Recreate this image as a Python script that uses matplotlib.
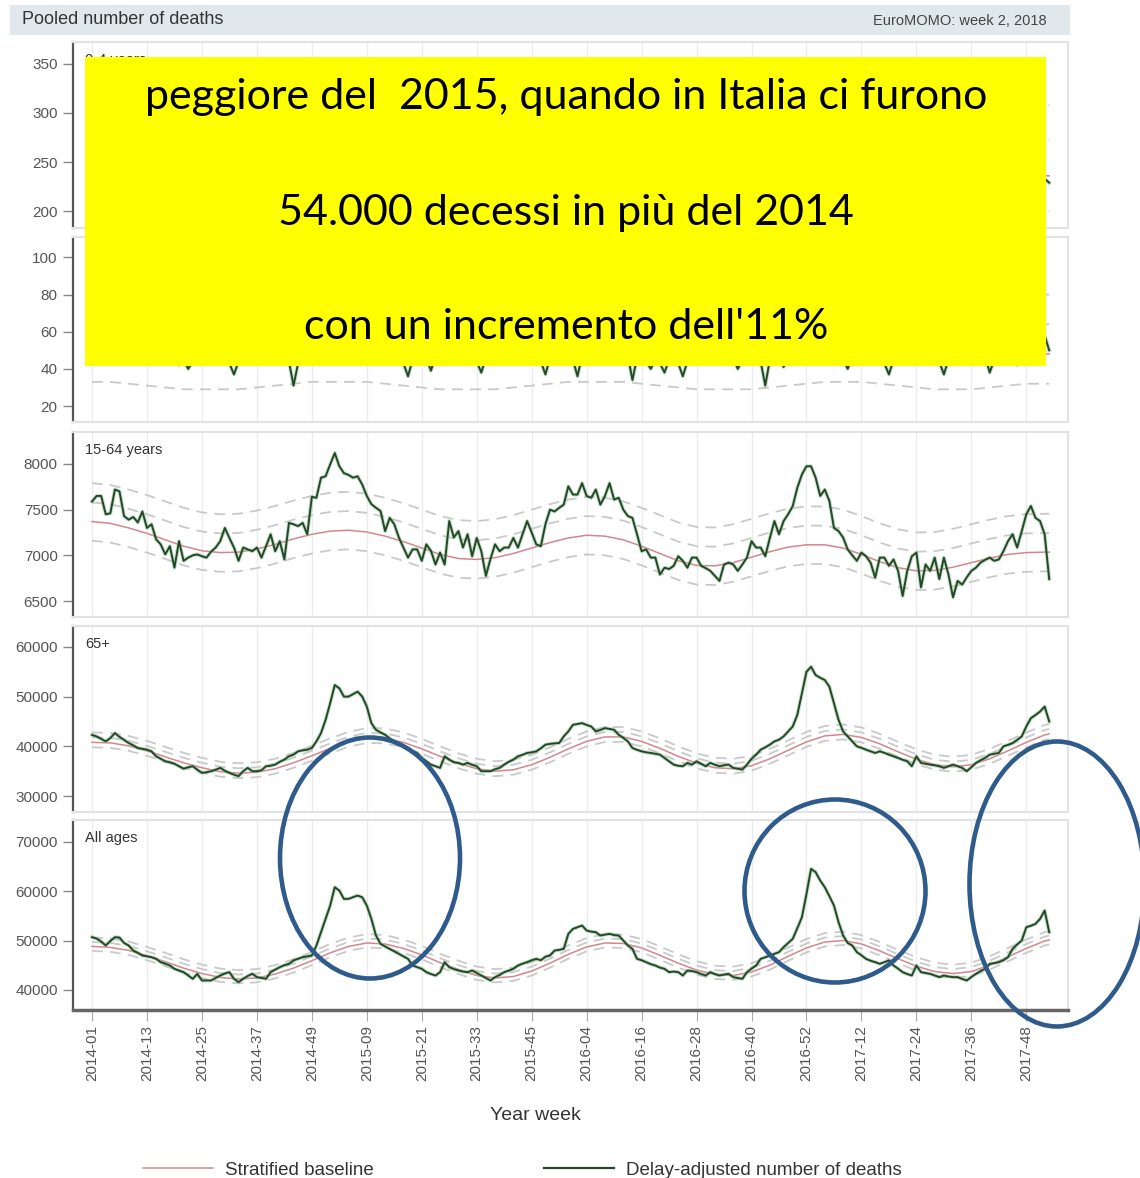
# EuroMOMO pooled number of deaths, 2014-2018, with the yellow note and the
# blue circles drawn on top of the bulletin picture.

import numpy as np
import matplotlib
matplotlib.use("Agg")
import matplotlib.pyplot as plt
from matplotlib.patches import Rectangle, Ellipse
from matplotlib.lines import Line2D

plt.rcParams['font.family'] = ['Liberation Sans', 'DejaVu Sans']

# --- Data -------------------------------------------------------------
# week index 0 = 2014-01, one value per ISO week up to 2018-01
week_ticks = [0, 12, 24, 36, 48, 60, 72, 84, 96, 108, 120, 132, 144, 156, 168, 180, 192, 204]
week_labels = ["2014-01", "2014-13", "2014-25", "2014-37", "2014-49", "2015-09",
               "2015-21", "2015-33", "2015-45", "2016-04", "2016-16", "2016-28",
               "2016-40", "2016-52", "2017-12", "2017-24", "2017-36", "2017-48"]

panel_names = ["0-4 years", "5-14 years", "15-64 years", "65+", "All ages"]

deaths_0_4 = [
    238, 245, 231, 252, 240, 236, 248, 229, 235, 226,
    232, 221, 228, 219, 225, 214, 222, 210, 218, 212,
    207, 215, 209, 204, 212, 206, 200, 208, 203, 211,
    205, 199, 207, 213, 204, 210, 216, 209, 214, 221,
    215, 224, 219, 228, 222, 231, 236, 229, 242, 251,
    258, 263, 255, 261, 249, 257, 246, 252, 240, 244,
    236, 241, 230, 234, 225, 229, 220, 224, 216, 221,
    212, 218, 209, 214, 206, 211, 203, 208, 201, 206,
    210, 204, 199, 207, 202, 209, 205, 212, 208, 215,
    211, 218, 214, 222, 217, 226, 221, 230, 226, 235,
    231, 240, 236, 244, 239, 247, 242, 238, 245, 236,
    241, 233, 238, 229, 234, 225, 230, 221, 226, 217,
    222, 214, 219, 210, 215, 207, 212, 204, 209, 201,
    206, 210, 203, 208, 200, 205, 209, 202, 207, 212,
    206, 211, 216, 210, 218, 214, 222, 227, 221, 233,
    239, 246, 252, 258, 265, 259, 268, 261, 255, 249,
    253, 244, 248, 238, 242, 233, 237, 228, 232, 223,
    227, 219, 224, 215, 220, 212, 217, 209, 214, 206,
    211, 204, 209, 215, 207, 212, 218, 211, 216, 222,
    215, 221, 226, 219, 225, 231, 224, 230, 236, 229,
    235, 241, 234, 240, 246, 238, 244, 237, 233, 229]

deaths_5_14 = [
    52, 49, 55, 47, 50, 58, 53, 46, 51, 48,
    54, 49, 45, 52, 47, 50, 44, 49, 43, 42,
    45, 40, 44, 48, 51, 46, 49, 53, 47, 45,
    43, 37, 44, 48, 46, 50, 45, 52, 47, 44,
    49, 46, 51, 44, 31, 43, 50, 55, 52, 58,
    61, 56, 59, 54, 57, 52, 55, 50, 53, 48,
    51, 47, 49, 45, 52, 48, 44, 47, 43, 36,
    45, 48, 44, 46, 39, 47, 50, 45, 49, 44,
    47, 51, 46, 49, 44, 38, 46, 50, 47, 52,
    48, 45, 50, 47, 53, 49, 46, 51, 44, 37,
    46, 50, 54, 49, 52, 45, 36, 47, 51, 48,
    53, 49, 46, 50, 45, 48, 44, 47, 34, 46,
    49, 44, 40, 45, 43, 38, 45, 47, 43, 36,
    44, 48, 46, 51, 47, 45, 49, 44, 47, 50,
    46, 40, 45, 48, 52, 49, 44, 31, 45, 50,
    47, 41, 48, 53, 58, 55, 61, 57, 54, 51,
    56, 50, 53, 48, 45, 40, 47, 50, 46, 49,
    44, 48, 46, 43, 37, 45, 49, 46, 50, 47,
    44, 48, 51, 46, 49, 44, 37, 45, 48, 52,
    47, 50, 46, 49, 44, 47, 38, 45, 49, 47,
    51, 46, 42, 48, 53, 50, 55, 52, 58, 50]

deaths_15_64 = [
    7590, 7650, 7650, 7450, 7460, 7720, 7700, 7430, 7390, 7420,
    7360, 7480, 7300, 7340, 7175, 7120, 7010, 7100, 6865, 7155,
    6940, 6975, 7000, 7010, 6990, 6975, 7040, 7085, 7155, 7300,
    7190, 7085, 6940, 7085, 7065, 7045, 7085, 6975, 7100, 7230,
    7045, 7155, 6955, 7355, 7340, 7320, 7355, 7230, 7640, 7630,
    7850, 7865, 7995, 8120, 7975, 7900, 7880, 7850, 7865, 7775,
    7650, 7560, 7520, 7485, 7265, 7410, 7340, 7195, 7085, 6975,
    7065, 7065, 6940, 7120, 7050, 6900, 7030, 6900, 7375, 7195,
    7265, 7085, 7230, 6990, 7190, 7045, 6775, 6960, 7120, 7045,
    7085, 7085, 7190, 7085, 7230, 7375, 7250, 7120, 7100, 7340,
    7500, 7480, 7520, 7555, 7755, 7665, 7665, 7790, 7650, 7630,
    7720, 7555, 7650, 7790, 7610, 7630, 7500, 7430, 7410, 7230,
    7045, 7065, 6975, 6975, 6790, 6865, 6850, 6885, 6990, 6940,
    6865, 6975, 6975, 6885, 6860, 6830, 6775, 6720, 6900, 6920,
    6900, 6830, 6900, 6975, 7155, 7085, 7085, 6990, 7190, 7375,
    7230, 7375, 7450, 7540, 7740, 7885, 7975, 7975, 7850, 7650,
    7720, 7595, 7300, 7265, 7195, 7065, 7000, 6940, 7030, 6990,
    6920, 6755, 6975, 6975, 6885, 6955, 6830, 6555, 6830, 6990,
    7030, 6650, 6900, 6830, 6975, 6740, 6975, 6790, 6540, 6720,
    6680, 6760, 6830, 6865, 6920, 6950, 6975, 6940, 6955, 7045,
    7155, 7230, 7085, 7265, 7450, 7540, 7410, 7375, 7230, 6740]

deaths_65plus = [
    42300, 42000, 41500, 41000, 41670, 42670, 41900, 41300, 40670, 40200,
    39670, 39500, 39330, 39000, 38000, 37500, 37000, 36800, 36500, 36000,
    35500, 35800, 36000, 35300, 34670, 34800, 35000, 35300, 35670, 35100,
    34670, 34300, 34000, 35000, 35670, 35000, 35000, 35200, 36000, 36100,
    36330, 36900, 37330, 38000, 38330, 39000, 39200, 39330, 39670, 41000,
    42670, 45330, 48670, 52330, 51670, 50000, 50000, 50500, 51000, 50000,
    48000, 44670, 43330, 42800, 42330, 41600, 41000, 40500, 40000, 39330,
    39000, 38670, 37700, 37000, 36330, 36000, 35670, 38000, 37330, 36800,
    36670, 36330, 36670, 36300, 36000, 35000, 35000, 35000, 35400, 35670,
    36330, 36900, 37330, 38000, 38300, 38670, 38800, 39000, 39600, 40330,
    40500, 40600, 40670, 42000, 43000, 44330, 44500, 44670, 44300, 44000,
    43000, 43300, 43670, 43500, 43330, 42330, 41700, 41000, 39670, 39300,
    39000, 38800, 38670, 38500, 38330, 37670, 37000, 36330, 36100, 36000,
    36670, 36330, 37000, 36500, 36000, 36670, 36300, 36000, 36200, 36330,
    35670, 35500, 35330, 36330, 37500, 38330, 39330, 39800, 40330, 41000,
    41330, 42000, 43000, 44000, 46330, 50670, 55000, 56000, 54330, 53800,
    53330, 52000, 48670, 45330, 43000, 42000, 41000, 40000, 39700, 39330,
    39000, 38670, 39000, 38700, 38330, 38000, 37670, 37300, 37000, 36000,
    38000, 36670, 36500, 36330, 36200, 36000, 35670, 36000, 36330, 36000,
    35670, 35000, 35800, 36670, 37200, 37670, 38330, 38500, 38670, 40000,
    40300, 40670, 41300, 42000, 44000, 45670, 46300, 47000, 48000, 45000]

deaths_all = [
    50680, 50400, 49800, 48990, 49900, 50680, 50600, 49500, 48990, 47970,
    47500, 46960, 46800, 46620, 46280, 45600, 45300, 44930, 44260, 43900,
    43580, 42900, 42230, 43240, 41890, 41900, 41890, 42400, 42900, 43300,
    43580, 42230, 41550, 42230, 42800, 43240, 42570, 42400, 42230, 43580,
    44100, 44590, 45000, 45270, 45950, 46300, 46620, 46800, 46960, 48990,
    51690, 54390, 57090, 60810, 60140, 58450, 58450, 58800, 59120, 58780,
    57090, 54390, 51010, 49320, 48800, 48310, 47800, 47300, 46800, 46280,
    44930, 44600, 44260, 43580, 43200, 42900, 43580, 45610, 44590, 44200,
    43920, 43700, 43580, 43920, 43400, 42900, 42400, 41890, 42570, 43000,
    43580, 43900, 44260, 44930, 45300, 45610, 46000, 46280, 46000, 46700,
    46960, 47970, 48100, 48310, 51350, 52360, 52700, 53040, 52030, 51800,
    51690, 51010, 51200, 51350, 51100, 51010, 50000, 49000, 48310, 46280,
    46000, 45610, 45200, 44930, 44500, 44260, 43580, 43700, 43580, 42900,
    43920, 43800, 43580, 43200, 42900, 43580, 43200, 42900, 43100, 43240,
    42570, 42400, 42230, 43580, 44300, 44930, 46280, 46600, 46960, 47300,
    47640, 48650, 49500, 50340, 52500, 54730, 59460, 64540, 63870, 62160,
    60810, 59000, 57090, 53720, 51010, 49500, 48990, 47640, 47000, 46280,
    45900, 45610, 45270, 45600, 45950, 44930, 44300, 43580, 43200, 42900,
    44930, 43580, 43400, 43240, 42900, 42570, 42900, 42700, 42570, 42570,
    42200, 41890, 42600, 43240, 43800, 44260, 45270, 45400, 45610, 46000,
    46620, 48310, 49200, 50000, 52700, 53000, 53380, 54390, 56080, 51690]

# stratified baseline, read every 4th week (last point = final week)
base_weeks = list(range(0, 209, 4)) + [209]

baseline_0_4 = [236, 234, 230, 225, 220, 216, 213, 212, 213, 216,
                220, 225, 230, 234, 236, 235, 232, 227, 222, 217,
                214, 213, 214, 217, 221, 226, 231, 235, 237, 236,
                232, 227, 222, 218, 215, 214, 216, 219, 224, 229,
                233, 236, 236, 233, 229, 224, 220, 218, 219, 222,
                227, 232, 236, 236]
baseline_5_14 = [49, 49, 48, 47, 46, 45, 45, 45, 45, 46,
                 47, 48, 49, 49, 49, 49, 48, 47, 46, 45,
                 45, 45, 45, 46, 47, 48, 49, 49, 49, 49,
                 48, 47, 46, 45, 45, 45, 45, 46, 47, 48,
                 49, 49, 49, 48, 47, 46, 45, 45, 45, 46,
                 47, 48, 48, 48]
baseline_15_64 = [7370, 7350, 7300, 7240, 7170, 7100, 7050, 7030, 7035, 7070,
                  7120, 7180, 7230, 7265, 7275, 7255, 7210, 7150, 7080, 7010,
                  6965, 6955, 6975, 7020, 7080, 7140, 7190, 7220, 7210, 7170,
                  7100, 7020, 6940, 6890, 6885, 6920, 6980, 7040, 7090, 7115,
                  7115, 7080, 7010, 6930, 6865, 6830, 6835, 6870, 6920, 6970,
                  7010, 7030, 7035, 7035]
baseline_65plus = [40800, 40700, 40100, 39100, 37900, 36700, 35700, 34900, 34600, 34800,
                   35500, 36700, 38100, 39600, 40900, 41700, 41600, 40800, 39500, 38000,
                   36600, 35500, 35000, 35300, 36300, 37800, 39500, 41000, 41900, 41900,
                   41000, 39600, 38000, 36600, 35700, 35500, 36100, 37500, 39200, 40900,
                   42100, 42400, 41800, 40500, 38900, 37400, 36300, 35900, 36300, 37500,
                   39100, 40800, 42300, 42500]
baseline_all = [48800, 48600, 48000, 46900, 45700, 44400, 43300, 42500, 42200, 42400,
                43200, 44400, 45900, 47500, 48800, 49500, 49300, 48400, 47100, 45500,
                44100, 42900, 42400, 42700, 43800, 45400, 47200, 48700, 49500, 49400,
                48500, 47000, 45400, 44000, 43100, 42900, 43600, 45000, 46800, 48500,
                49700, 50000, 49300, 47900, 46300, 44800, 43700, 43300, 43700, 45000,
                46700, 48400, 49900, 50100]

# z-score width of each group (distance between baseline and dashed limits / 2)
zscore_sd = [18, 8, 105, 500, 450]

deaths = [deaths_0_4, deaths_5_14, deaths_15_64, deaths_65plus, deaths_all]
baselines = [baseline_0_4, baseline_5_14, baseline_15_64, baseline_65plus, baseline_all]

# --- Layout (pixels of the 1140 x 1178 picture) -----------------------
W, H = 1140, 1178
L, R = 73, 1068
panel_px = [(42, 228), (237, 422), (432, 617), (626, 812), (820, 1010)]
yticks = [[200, 250, 300, 350], [20, 40, 60, 80, 100], [6500, 7000, 7500, 8000],
          [30000, 40000, 50000, 60000], [40000, 50000, 60000, 70000]]
ylims = [(183, 372), (11.4, 111), (6325, 8350), (26800, 64200), (35900, 74460)]

GREEN = '#24472a'
PINK = '#d4868f'
DASH = '#c9c9c9'

fig = plt.figure(figsize=(W / 100, H / 100), dpi=100)

for i, (top, bot) in enumerate(panel_px):
    ax = fig.add_axes([L / W, 1 - bot / H, (R - L) / W, (bot - top) / H])
    x = np.arange(len(deaths[i]))
    bw = base_weeks[:len(baselines[i])]
    b = np.array(baselines[i])
    for k in (-2, 2, 4):
        ax.plot(bw, b + k * zscore_sd[i], color=DASH, lw=1.3, ls=(0, (6, 4)))
    ax.plot(bw, b, color=PINK, lw=1.1)
    ax.plot(x, deaths[i], color='#8cc48c', lw=2.8, alpha=0.5, solid_joinstyle='round')
    ax.plot(x, deaths[i], color=GREEN, lw=1.4, solid_joinstyle='round')

    ax.set_xlim(-4.15, 213.1)
    ax.set_ylim(*ylims[i])
    ax.set_yticks(yticks[i])
    ax.set_xticks(week_ticks)
    ax.grid(axis='x', color='#ebebeb', lw=1)
    ax.set_axisbelow(True)
    ax.tick_params(axis='y', length=7, width=1, color='#888888', labelsize=11,
                   labelcolor='#555555', pad=4)
    for side in ('top', 'right', 'bottom'):
        ax.spines[side].set_color('#e2e2e2')
        ax.spines[side].set_linewidth(1.5)
    ax.spines['left'].set_color('#555555')
    ax.spines['left'].set_linewidth(1.6)

    ax.text(12 / (R - L), 1 - 18 / (bot - top), panel_names[i], transform=ax.transAxes,
            fontsize=10.5, color='#333333', ha='left', va='center')

    if i == len(panel_px) - 1:
        ax.set_xticklabels(week_labels, rotation=90)
        ax.tick_params(axis='x', length=8, color='#aaaaaa', labelsize=11,
                       labelcolor='#555555', pad=3)
        ax.spines['bottom'].set_color('#666666')
        ax.spines['bottom'].set_linewidth(2.5)
    else:
        ax.tick_params(axis='x', length=0, labelbottom=False)

fig.text(535 / W, 1 - 1115 / H, "Year week", ha='center', va='center',
         fontsize=14, color='#333333')

fig.legend(handles=[Line2D([], [], color=PINK, lw=1.1), Line2D([], [], color=GREEN, lw=1.6)],
           labels=["Stratified baseline", "Delay-adjusted number of deaths"],
           ncol=2, frameon=False, loc='center left', bbox_to_anchor=(143 / W, 1 - 1170 / H),
           handlelength=3.73, handletextpad=0.64, columnspacing=9.07, fontsize=13.5,
           borderpad=0, borderaxespad=0, labelcolor='#333333')

# --- Overlay: header bar, yellow note and blue circles -------------------
ov = fig.add_axes([0, 0, 1, 1], zorder=10)
ov.set_xlim(0, W)
ov.set_ylim(H, 0)
ov.axis('off')

ov.add_patch(Rectangle((10, 5), 1060, 30, color='#e0e8ec', lw=0))
ov.text(22, 20, "Pooled number of deaths", fontsize=13, color='#333333', va='center')
ov.text(1047, 21, "EuroMOMO: week 2, 2018", fontsize=10.5, color='#444444',
        va='center', ha='right')

ov.add_patch(Rectangle((85, 57), 961, 309, color='#ffff00', lw=0))
note_lines = ["peggiore del  2015, quando in Italia ci furono",
              "54.000 decessi in più del 2014",
              "con un incremento dell'11%"]
for txt, yy in zip(note_lines, [97, 213, 327]):
    ov.text(566, yy, txt, fontsize=31, family=['Lato', 'DejaVu Sans'], color='black',
            ha='center', va='center')

for cx, cy, ew, eh in [(370, 858, 180, 241), (835, 891, 181, 183), (1057, 884, 175, 285)]:
    ov.add_patch(Ellipse((cx, cy), ew, eh, fill=False, edgecolor='#2f5b8c', lw=3.3,
                         clip_on=False))

fig.savefig("out.png", dpi=100)
